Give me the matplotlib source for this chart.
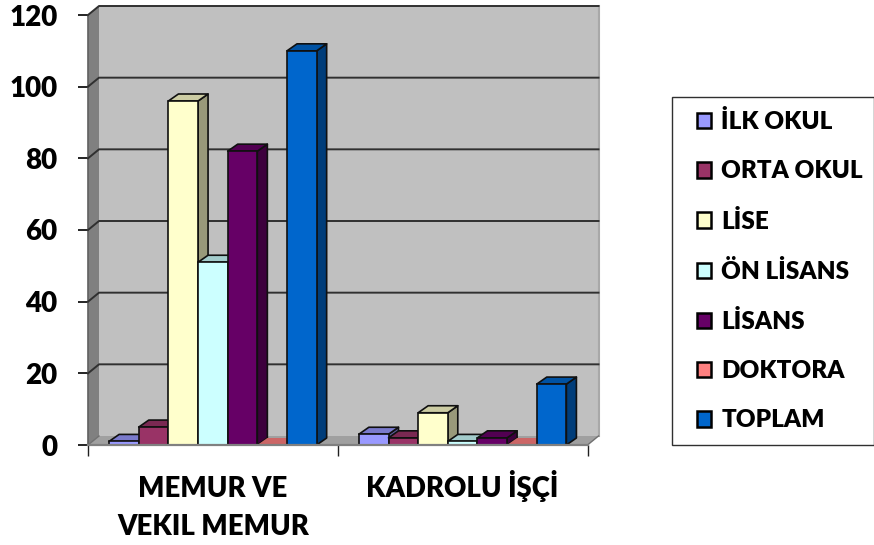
import numpy as np
import matplotlib
matplotlib.use('Agg')
import matplotlib.pyplot as plt
from matplotlib.patches import Polygon, Patch, Rectangle
from matplotlib.colors import to_rgb

plt.rcParams['font.family'] = ['Lato', 'DejaVu Sans']
plt.rcParams['font.weight'] = 'heavy'

categories = ['MEMUR VE\nVEKIL MEMUR', 'KADROLU İŞÇİ']
series_names = ['İLK OKUL', 'ORTA OKUL', 'LİSE', 'ÖN LİSANS', 'LİSANS', 'DOKTORA', 'TOPLAM']
series_vals = [[1, 3], [5, 2], [96, 9], [51, 1], [82, 2], [0, 0], [110, 17]]
colors = ['#9999FF', '#993366', '#FFFFCC', '#CCFFFF', '#660066', '#FF8080', '#0066CC']
yticks = [0, 20, 40, 60, 80, 100, 120]

W, H = 874, 545
fig = plt.figure(figsize=(W / 100, H / 100), dpi=100)
ax = fig.add_axes([88 / W, 1 - 445 / H, 499.5 / W, 430 / H])
ax.set_xlim(0, 2)
ax.set_ylim(0, 120)
for s in ['top', 'right']:
    ax.spines[s].set_visible(False)
ax.spines['left'].set_visible(False)
ax.spines['bottom'].set_color('#808080')
ax.spines['bottom'].set_linewidth(1.6)
ax.spines['bottom'].set_zorder(50)
ax.patch.set_visible(False)

# depth of the fake 3d, in axis units
wall_dx = 11 / 249.75
wall_dy = 9 / 3.583
bar_dx = 10 / 249.75
bar_dy = 7 / 3.583

def poly(pts, fc, z, ec='none', lw=0):
    ax.add_patch(Polygon(pts, closed=True, fc=fc, ec=ec, lw=lw, zorder=z, clip_on=False, joinstyle='round'))

def shade(c, f):
    return tuple(v * f for v in to_rgb(c))

# walls and floor
poly([(wall_dx, wall_dy), (2 + wall_dx, wall_dy), (2 + wall_dx, 120 + wall_dy), (wall_dx, 120 + wall_dy)], '#C0C0C0', 1)
poly([(0, 0), (wall_dx, wall_dy), (wall_dx, 120 + wall_dy), (0, 120)], '#808080', 1)
poly([(0, 0), (2, 0), (2 + wall_dx, wall_dy), (wall_dx, wall_dy)], '#A0A0A0', 1)
ax.plot([2 + wall_dx, 2 + wall_dx], [wall_dy, 120 + wall_dy], color='#A8A8A8', lw=1.5, zorder=2, clip_on=False)
ax.plot([0, 0], [0, 120], color='#606060', lw=1.2, zorder=2, clip_on=False)
ax.plot([0, wall_dx], [0, wall_dy], color='#707070', lw=1, zorder=2, clip_on=False)
ax.plot([2, 2 + wall_dx], [0, wall_dy], color='#707070', lw=1, zorder=2, clip_on=False)

# gridlines on the back wall and round the side wall
for v in yticks[1:]:
    ax.plot([0, wall_dx, 2 + wall_dx], [v, v + wall_dy, v + wall_dy], color='#303030', lw=1.4, zorder=3, clip_on=False)

# bars, left to right so the next front covers the last side
n = len(series_names)
bw = 29.65 / 249.75
for g in range(len(categories)):
    for i in range(n):
        v = series_vals[i][g]
        x0 = g + 0.5 + (i - n / 2) * bw
        x1 = x0 + bw
        z = 10 + g * 10 + i
        c = colors[i]
        ek = dict(ec='#101010', lw=1.2)
        poly([(x1, 0), (x1 + bar_dx, bar_dy), (x1 + bar_dx, v + bar_dy), (x1, v)], shade(c, 0.6), z, **(ek if v > 0 else {}))
        poly([(x0, v), (x1, v), (x1 + bar_dx, v + bar_dy), (x0 + bar_dx, v + bar_dy)], shade(c, 0.8), z, **(ek if v > 0 else {}))
        if v > 0:
            ax.bar(x0, v, width=bw, align='edge', color=c, edgecolor='#101010', linewidth=1.2, zorder=z)

ax.set_yticks(yticks)
ax.set_yticklabels([str(v) for v in yticks], fontsize=20, fontweight='heavy')
ax.tick_params(axis='y', length=7, width=1.2, color='black', pad=15)
ax.set_xticks([0, 1, 2])
ax.set_xticklabels([])
ax.tick_params(axis='x', which='major', length=8, width=1, color='#202020')
ax.set_xticks([0.5, 1.5], minor=True)
ax.set_xticklabels(categories, minor=True, fontsize=19.8, fontweight='heavy', linespacing=1.6)
ax.tick_params(axis='x', which='minor', length=0)
# the dotted capitals push the one line label down, so the pads differ
minor_ticks = ax.xaxis.get_minor_ticks()
minor_ticks[0].set_pad(22)
minor_ticks[1].set_pad(18)

# legend frame runs off the right edge like the original
fig.add_artist(Rectangle((672 / W, 1 - 445 / H), 201.5 / W, 348 / H, transform=fig.transFigure,
                         fc='white', ec='#303030', lw=1.0))
handles = [Patch(fc=c, ec='black', lw=1.8) for c in colors]
leg = fig.legend(handles, series_names, loc='upper left', bbox_to_anchor=(684.5 / W, 1 - 98 / H),
                 fontsize=17.5, frameon=False,
                 handlelength=0.6, handleheight=0.6, handletextpad=0.41,
                 labelspacing=1.12, borderpad=0.5, borderaxespad=0)

fig.savefig('out.png', dpi=100)
